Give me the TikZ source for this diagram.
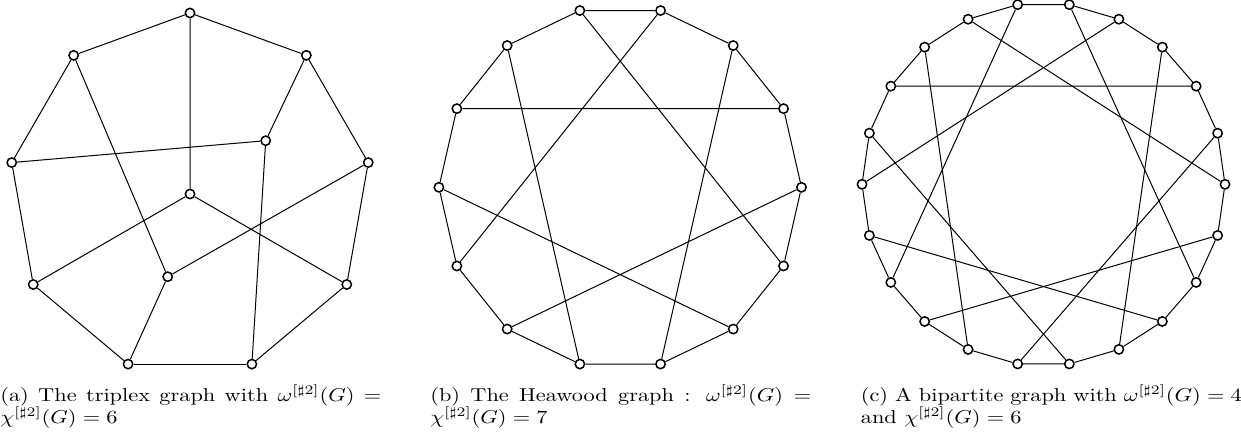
\documentclass[tikz,border=0pt]{standalone}
\usepackage{graphicx}
\newcommand{\subcaptext}[1]{\scalebox{1.341}[1.12]{\parbox[t]{170.5pt}{\fontsize{10}{12}\selectfont\noindent #1}}}
\begin{document}
\begin{tikzpicture}[x=0.6pt,y=-0.6pt,
  vtx/.style={circle,draw,fill=white,line width=0.9pt,minimum size=5.6pt,inner sep=0pt},
  edge/.style={line width=0.6pt},
  subcap/.style={anchor=base west,inner sep=0pt}]
\useasboundingbox (0,0) rectangle (1241,438);
% ---------- (a) triplex graph ----------
\foreach \k in {0,...,8}
  \node[vtx] (a\k) at ({190+181*cos(90+40*\k)},{194-181*sin(90+40*\k)}) {};
\node[vtx] (ag) at (190,194) {};
\node[vtx] (af) at (265.7,140.7) {};
\node[vtx] (ai) at (167.7,276.7) {};
\foreach \k in {0,...,8}{\pgfmathtruncatemacro\n{mod(\k+1,9)}\draw[edge] (a\k) -- (a\n);}
\draw[edge] (a0)--(ag) (a8)--(af) (af)--(a2) (af)--(a5) (ag)--(a3) (ag)--(a6)
  (a1)--(ai) (ai)--(a7) (ai)--(a4);
% ---------- (b) Heawood graph ----------
\foreach \k in {0,...,13}
  \node[vtx] (b\k) at ({620.2+181.3*cos(\k*360/14)},{187.3-181.3*sin(\k*360/14)}) {};
\foreach \k in {0,...,13}{\pgfmathtruncatemacro\n{mod(\k+1,14)}\draw[edge] (b\k) -- (b\n);}
\draw[edge] (b0)--(b9) (b2)--(b11) (b4)--(b13) (b6)--(b1) (b8)--(b3) (b10)--(b5) (b12)--(b7);
% ---------- (c) bipartite graph ----------
\foreach \k in {0,...,21}
  \node[vtx] (c\k) at ({1043.5+181.5*cos(\k*360/22)},{184.3-181.5*sin(\k*360/22)}) {};
\foreach \k in {0,...,21}{\pgfmathtruncatemacro\n{mod(\k+1,22)}\draw[edge] (c\k) -- (c\n);}
\foreach \k in {0,2,...,20}{\pgfmathtruncatemacro\n{mod(\k+7,22)}\draw[edge] (c\k) -- (c\n);}
% ---------- captions ----------
\node[subcap] (capa) at (0,401) {\subcaptext{(a) The triplex graph with $\omega^{[\sharp2]}(G) = \chi^{[\sharp2]}(G) = 6$}};
\node[subcap] (capb) at (430,401) {\subcaptext{(b) The Heawood graph : $\omega^{[\sharp2]}(G) = \chi^{[\sharp2]}(G) = 7$}};
\node[subcap] (capc) at (860.5,401) {\subcaptext{(c) A bipartite graph with $\omega^{[\sharp2]}(G) = 4$ and $\chi^{[\sharp2]}(G) = 6$}};
\end{tikzpicture}
\end{document}
